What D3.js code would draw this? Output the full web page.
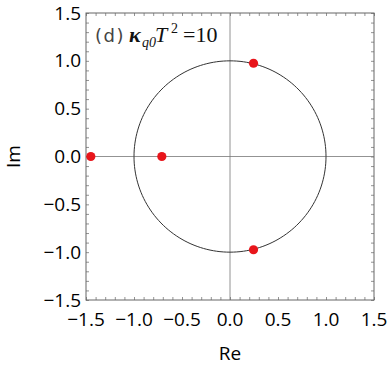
<!DOCTYPE html>
<html>
<head>
<meta charset="utf-8">
<script src="https://cdn.jsdelivr.net/npm/d3@7"></script>
<style>
  body { margin: 0; background: #fff; }
  svg text { font-family: "Open Sans", "Liberation Sans", sans-serif; }
</style>
</head>
<body>
<div id="chart"></div>
<script>
// pole positions (Re, Im)
const poleRe = [-1.45, -0.71, 0.245, 0.245];
const poleIm = [0, 0, 0.975, -0.975];
const tickValues = [-1.5, -1.0, -0.5, 0.0, 0.5, 1.0, 1.5];
const domain = [-1.5, 1.5];

const width = 388, height = 368;
const margin = { top: 13, right: 14, bottom: 68, left: 86 };

const svg = d3.select("#chart").append("svg")
  .attr("width", width).attr("height", height);

const x = d3.scaleLinear().domain(domain).range([margin.left, width - margin.right]);
const y = d3.scaleLinear().domain(domain).range([height - margin.bottom, margin.top]);

const minor = d3.range(-15, 16).map(d => d / 10);
const fmt = d3.format(".1f");

// frame ticks (inward, on all four sides)
function ticks(axisGen, transform, size) {
  svg.append("g").attr("transform", transform)
    .call(axisGen.tickValues(minor).tickSize(size).tickFormat(""))
    .call(g => g.select(".domain").remove())
    .call(g => g.selectAll("line").attr("stroke", "#777").attr("stroke-width", 0.8));
}
ticks(d3.axisTop(x), `translate(0,${y(-1.5)})`, 3);
ticks(d3.axisBottom(x), `translate(0,${y(1.5)})`, 3);
ticks(d3.axisRight(y), `translate(${x(-1.5)},0)`, 3);
ticks(d3.axisLeft(y), `translate(${x(1.5)},0)`, 3);

svg.append("rect")
  .attr("x", x(-1.5)).attr("y", y(1.5))
  .attr("width", x(1.5) - x(-1.5)).attr("height", y(-1.5) - y(1.5))
  .attr("fill", "none").attr("stroke", "#666").attr("stroke-width", 1);

// axes through origin
svg.append("line").attr("x1", x(-1.5)).attr("x2", x(1.5)).attr("y1", y(0)).attr("y2", y(0))
  .attr("stroke", "#777").attr("stroke-width", 0.8);
svg.append("line").attr("x1", x(0)).attr("x2", x(0)).attr("y1", y(-1.5)).attr("y2", y(1.5))
  .attr("stroke", "#777").attr("stroke-width", 0.8);

// unit circle
svg.append("path")
  .datum(d3.range(0, 361, 2))
  .attr("d", d3.line().x(a => x(Math.cos(a * Math.PI / 180))).y(a => y(Math.sin(a * Math.PI / 180))))
  .attr("fill", "none").attr("stroke", "#333").attr("stroke-width", 1);

// poles
svg.selectAll(".pole").data(poleRe).join("circle")
  .attr("cx", d => x(d)).attr("cy", (d, i) => y(poleIm[i]))
  .attr("r", 4.6).attr("fill", "#e8151b");

// tick labels
svg.selectAll(".xl").data(tickValues).join("text")
  .attr("x", d => x(d)).attr("y", y(-1.5) + 26)
  .attr("text-anchor", "middle").attr("font-size", 19).attr("fill", "#000")
  .text(d => fmt(d));
svg.selectAll(".yl").data(tickValues).join("text")
  .attr("x", x(-1.5) - 5).attr("y", d => y(d) + 6.5)
  .attr("text-anchor", "end").attr("font-size", 19).attr("fill", "#000")
  .text(d => fmt(d));

// axis titles
svg.append("text").attr("x", x(0)).attr("y", 360)
  .attr("text-anchor", "middle").attr("font-size", 19).attr("fill", "#000").text("Re");
svg.append("text").attr("transform", `translate(20,${y(0)}) rotate(-90)`)
  .attr("text-anchor", "middle").attr("font-size", 19).attr("fill", "#000").text("Im");

// panel label
const serif = "Liberation Serif, serif";
const lab = svg.append("text").attr("y", 42).attr("fill", "#111");
lab.append("tspan").attr("x", 95).text("(d)").attr("font-family", "DejaVu Sans, sans-serif")
  .attr("font-size", 18).attr("letter-spacing", 1.5).attr("fill", "#444");
lab.append("tspan").attr("x", 129).attr("font-family", serif).attr("font-style", "italic").attr("font-weight", "bold").attr("font-size", 22).text("κ");
lab.append("tspan").attr("x", 142).attr("dy", 5).attr("font-family", serif).attr("font-style", "italic").attr("font-size", 14).text("q0");
lab.append("tspan").attr("x", 155).attr("dy", -5).attr("font-family", serif).attr("font-style", "italic").attr("font-size", 22).text("T");
lab.append("tspan").attr("x", 171).attr("dy", -9).attr("font-family", serif).attr("font-size", 14).text("2");
lab.append("tspan").attr("x", 183).attr("dy", 9).attr("font-family", serif).attr("font-size", 22).text("=10");
</script>
</body>
</html>
